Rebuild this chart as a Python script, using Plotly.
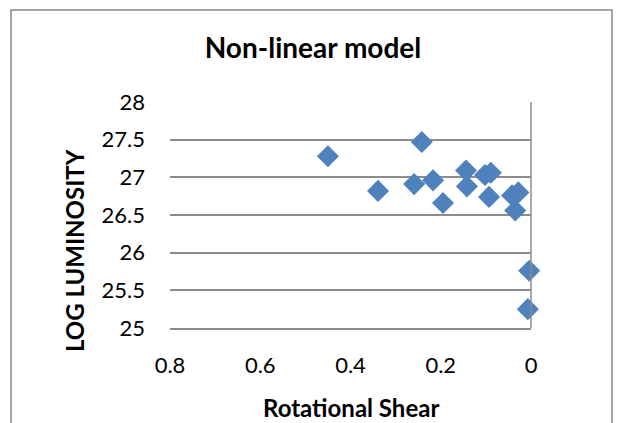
import plotly.graph_objects as go

# Data
rotational_shear = [0.45, 0.339, 0.259, 0.242, 0.217, 0.195, 0.144, 0.142,
                    0.102, 0.089, 0.093, 0.042, 0.028, 0.035, 0.004, 0.007]
log_luminosity = [27.28, 26.82, 26.91, 27.47, 26.96, 26.66, 27.09, 26.88,
                  27.03, 27.06, 26.74, 26.76, 26.80, 26.56, 25.76, 25.25]

x_ticks = [0.8, 0.6, 0.4, 0.2, 0]
x_tick_labels = ["0.8", "0.6", "0.4", "0.2", "0"]
y_ticks = [25, 25.5, 26, 26.5, 27, 27.5, 28]
y_tick_labels = ["25", "25.5", "26", "26.5", "27", "27.5", "28"]

FONT = "Lato"
GRID = "#8C8C8C"

# plot area in pixels: left 170, right 531, top 102, bottom 328
PL, PR, PT, PB = 170, 531, 102, 328
PW, PH = PR - PL, PB - PT


def px_x(px):
    return (px - PL) / PW


def px_y(py):
    return (PB - py) / PH


fig = go.Figure()
fig.add_trace(go.Scatter(
    x=rotational_shear, y=log_luminosity, mode="markers",
    marker=dict(symbol="diamond", size=17, color="#4F81BD",
                line=dict(width=0)),
    cliponaxis=False, showlegend=False, hoverinfo="x+y",
))

fig.update_layout(
    width=621, height=423,
    margin=dict(l=PL, r=621 - PR, t=PT, b=423 - PB),
    paper_bgcolor="white", plot_bgcolor="white",
    font=dict(family=FONT, color="#000000"),
    title=dict(text="<b>Non-linear model</b>", font=dict(size=28, family=FONT),
               x=0.504, xref="container", xanchor="center",
               y=1 - 48 / 423, yref="container", yanchor="middle"),
    xaxis=dict(range=[0.8, 0], tickvals=x_ticks, ticktext=x_tick_labels,
               showgrid=False, zeroline=False, showline=True,
               linecolor=GRID, linewidth=1.5, ticks="",
               ticklabelstandoff=17,
               tickfont=dict(size=22, family=FONT, color="#000")),
    yaxis=dict(range=[25, 28], tickvals=y_ticks, ticktext=y_tick_labels,
               showgrid=True, gridcolor=GRID, gridwidth=1.5,
               zeroline=False, showline=False, ticks="",
               ticklabelstandoff=24,
               tickfont=dict(size=22, family=FONT, color="#000")),
    annotations=[
        dict(text="<b>Rotational Shear</b>", xref="paper", yref="paper",
             x=px_x(351), y=px_y(407), xanchor="center", yanchor="middle",
             showarrow=False, font=dict(size=24, family=FONT, color="#000")),
        dict(text="<b>LOG LUMINOSITY</b>", xref="paper", yref="paper",
             x=px_x(74), y=px_y(251), xanchor="center", yanchor="middle",
             textangle=-90, showarrow=False,
             font=dict(size=24, family=FONT, color="#000")),
    ],
    shapes=[
        # right-hand vertical axis line (y axis crosses at x = 0)
        dict(type="line", xref="x domain", yref="y domain",
             x0=1, x1=1, y0=0, y1=1, line=dict(color=GRID, width=1.5)),
        # chart area border
        dict(type="rect", xref="paper", yref="paper",
             x0=px_x(11), x1=px_x(612), y0=px_y(440), y1=px_y(10),
             line=dict(color="#868686", width=1.5), fillcolor="rgba(0,0,0,0)",
             layer="below"),
    ],
)

fig.write_html("out.html")
